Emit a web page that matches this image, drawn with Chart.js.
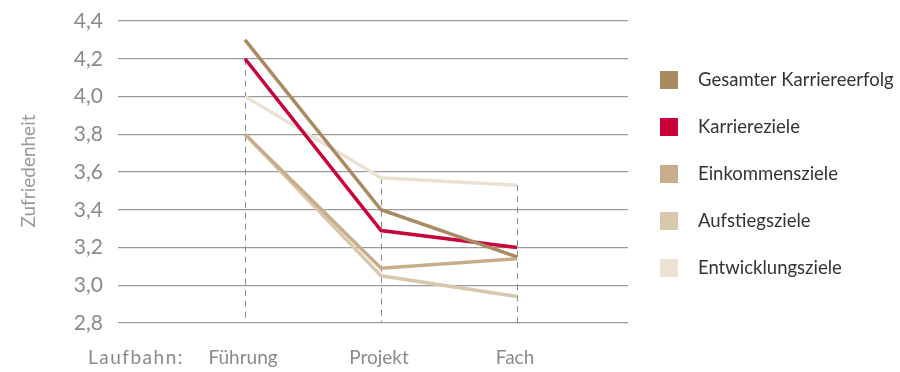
<!DOCTYPE html>
<html>
<head>
<meta charset="utf-8">
<script src="https://cdn.jsdelivr.net/npm/chart.js@4/dist/chart.umd.min.js"></script>
<style>
html,body{margin:0;padding:0;background:#fff;}
#wrap{position:relative;width:900px;height:372px;}
</style>
</head>
<body>
<div id="wrap"><canvas id="c" width="900" height="372"></canvas></div>
<script>
const categories = ['Führung', 'Projekt', 'Fach'];
const axisPrefix = 'Laufbahn:';
const yTitle = 'Zufriedenheit';
const seriesNames = ['Gesamter Karriereerfolg', 'Karriereziele', 'Einkommensziele', 'Aufstiegsziele', 'Entwicklungsziele'];
const gesamter = [4.30, 3.40, 3.15];
const karriere = [4.20, 3.29, 3.20];
const einkommen = [3.80, 3.09, 3.14];
const aufstieg = [3.80, 3.05, 2.94];
const entwicklung = [4.00, 3.57, 3.53];
const dashTop = [4.20, 3.57, 3.53];
const yTicks = [2.8, 3.0, 3.2, 3.4, 3.6, 3.8, 4.0, 4.2, 4.4];
const colors = ['#a98a62', '#c9003a', '#c8ad8c', '#d9c7ae', '#ece2d4'];

const FONT = 'Lato, "Open Sans", sans-serif';
const seriesValues = [gesamter, karriere, einkommen, aufstieg, entwicklung];

const datasets = seriesNames.map((name, i) => ({
  label: name,
  data: seriesValues[i].map((v, j) => ({x: j + 1, y: v})),
  borderColor: colors[i],
  backgroundColor: colors[i],
  borderWidth: 3.5,
  pointRadius: 0,
  tension: 0,
  borderCapStyle: 'butt',
  borderJoinStyle: 'miter'
}));

const decor = {
  id: 'decor',
  beforeDatasetsDraw(chart) {
    const ctx = chart.ctx;
    const xs = chart.scales.x, ys = chart.scales.y;
    ctx.save();
    ctx.strokeStyle = '#8a8a8a';
    ctx.lineWidth = 1;
    ctx.setLineDash([6, 5]);
    categories.forEach((c, j) => {
      const x = Math.round(xs.getPixelForValue(j + 1)) + 0.5;
      ctx.beginPath();
      ctx.moveTo(x, ys.getPixelForValue(dashTop[j]));
      ctx.lineTo(x, ys.getPixelForValue(2.8));
      ctx.stroke();
    });
    ctx.restore();
  },
  afterDraw(chart) {
    const ctx = chart.ctx;
    const xs = chart.scales.x;
    ctx.save();
    // x labels
    ctx.fillStyle = '#8a8a8a';
    ctx.font = '19px ' + FONT;
    ctx.textBaseline = 'middle';
    ctx.textAlign = 'center';
    categories.forEach((c, j) => {
      ctx.fillText(c, xs.getPixelForValue(j + 1) - 2, 358);
    });
    ctx.textAlign = 'left';
    ctx.letterSpacing = '1.5px';
    ctx.fillText(axisPrefix, 88, 358);
    ctx.letterSpacing = '0px';
    // y title
    ctx.save();
    ctx.translate(29, 171);
    ctx.rotate(-Math.PI / 2);
    ctx.textAlign = 'center';
    ctx.fillStyle = '#9a9a9a';
    ctx.font = '19px ' + FONT;
    ctx.fillText(yTitle, 0, 0);
    ctx.restore();
    // legend
    ctx.font = '18.5px ' + FONT;
    ctx.textAlign = 'left';
    ctx.textBaseline = 'middle';
    seriesNames.forEach((n, i) => {
      const cy = 80 + i * 47;
      ctx.fillStyle = colors[i];
      ctx.fillRect(660, cy - 9, 18, 18);
      ctx.fillStyle = '#333333';
      ctx.fillText(n, 698, cy);
    });
    ctx.restore();
  }
};

new Chart(document.getElementById('c'), {
  type: 'line',
  data: { datasets },
  options: {
    responsive: false,
    animation: false,
    devicePixelRatio: 1,
    layout: { padding: { top: 21, right: 272, bottom: 49, left: 0 } },
    plugins: { legend: { display: false }, tooltip: { enabled: false } },
    scales: {
      x: {
        type: 'linear',
        display: false,
        min: 0.066,
        max: 3.816
      },
      y: {
        type: 'linear',
        min: 2.8,
        max: 4.4,
        afterFit(scale) { scale.width = 118; scale.paddingTop = 5; scale.paddingBottom = 5; },
        afterBuildTicks(scale) { scale.ticks = yTicks.map(v => ({value: v})); },
        border: { display: false },
        grid: { color: '#9a9a9a', lineWidth: 1.2, drawTicks: false },
        ticks: {
          color: '#8a8a8a',
          font: { size: 21, family: FONT },
          padding: 15,
          callback: v => v.toFixed(1).replace('.', ',')
        }
      }
    }
  },
  plugins: [decor]
});
</script>
</body>
</html>
